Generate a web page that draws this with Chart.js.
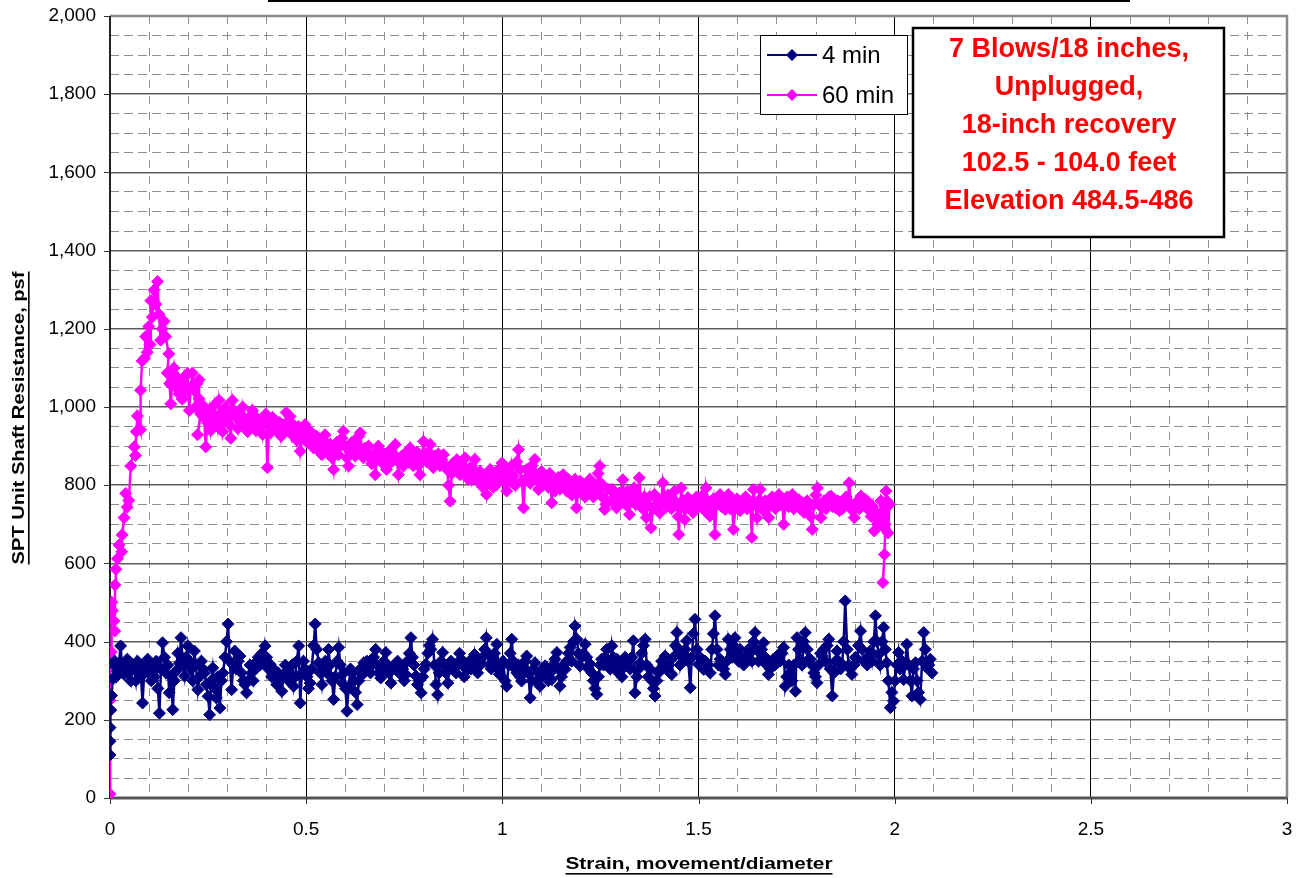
<!DOCTYPE html>
<html>
<head>
<meta charset="utf-8">
<script src="https://cdn.jsdelivr.net/npm/chart.js@4.4.1/dist/chart.umd.min.js"></script>
<style>
  html, body { margin: 0; padding: 0; background: #fff; }
  canvas { display: block; }
</style>
</head>
<body>
<canvas id="shaftChart" width="1300" height="878"></canvas>
<script>
// strain (movement/diameter) and unit shaft resistance (psf), 4 minute setup
const min4X = [
  0, 0, 0, 0.002, 0.004, 0.007, 0.010, 0.012, 0.016, 0.019,
  0.023, 0.027, 0.031, 0.036, 0.040, 0.044, 0.048, 0.053, 0.057, 0.062,
  0.066, 0.070, 0.075, 0.079, 0.083, 0.087, 0.092, 0.096, 0.100, 0.105,
  0.109, 0.113, 0.118, 0.122, 0.126, 0.130, 0.134, 0.139, 0.143, 0.147,
  0.151, 0.156, 0.160, 0.164, 0.168, 0.173, 0.177, 0.181, 0.186, 0.190,
  0.194, 0.198, 0.202, 0.206, 0.211, 0.215, 0.219, 0.224, 0.228, 0.233,
  0.237, 0.241, 0.245, 0.250, 0.254, 0.258, 0.262, 0.267, 0.271, 0.275,
  0.280, 0.284, 0.288, 0.293, 0.297, 0.301, 0.305, 0.310, 0.314, 0.318,
  0.322, 0.327, 0.331, 0.335, 0.340, 0.344, 0.348, 0.352, 0.357, 0.361,
  0.365, 0.370, 0.374, 0.378, 0.382, 0.387, 0.391, 0.395, 0.399, 0.404,
  0.408, 0.412, 0.417, 0.421, 0.425, 0.429, 0.434, 0.438, 0.442, 0.447,
  0.451, 0.455, 0.459, 0.464, 0.468, 0.472, 0.476, 0.481, 0.485, 0.489,
  0.493, 0.497, 0.502, 0.506, 0.510, 0.514, 0.519, 0.523, 0.527, 0.532,
  0.536, 0.540, 0.544, 0.549, 0.553, 0.557, 0.561, 0.566, 0.570, 0.574,
  0.579, 0.583, 0.587, 0.592, 0.596, 0.600, 0.604, 0.608, 0.613, 0.617,
  0.621, 0.626, 0.630, 0.634, 0.638, 0.643, 0.647, 0.651, 0.655, 0.660,
  0.664, 0.668, 0.672, 0.677, 0.681, 0.685, 0.690, 0.694, 0.698, 0.703,
  0.707, 0.711, 0.716, 0.720, 0.724, 0.728, 0.733, 0.737, 0.741, 0.746,
  0.750, 0.754, 0.758, 0.763, 0.767, 0.771, 0.775, 0.780, 0.784, 0.788,
  0.793, 0.797, 0.801, 0.805, 0.810, 0.814, 0.818, 0.822, 0.827, 0.831,
  0.835, 0.839, 0.844, 0.848, 0.852, 0.856, 0.861, 0.865, 0.869, 0.874,
  0.878, 0.882, 0.886, 0.891, 0.895, 0.899, 0.903, 0.908, 0.912, 0.916,
  0.920, 0.925, 0.929, 0.933, 0.937, 0.942, 0.946, 0.950, 0.955, 0.959,
  0.963, 0.967, 0.972, 0.976, 0.980, 0.984, 0.986, 0.990, 0.993, 0.998,
  1.002, 1.007, 1.011, 1.016, 1.020, 1.024, 1.028, 1.033, 1.037, 1.041,
  1.045, 1.049, 1.054, 1.058, 1.062, 1.066, 1.071, 1.075, 1.079, 1.083,
  1.088, 1.092, 1.096, 1.100, 1.105, 1.109, 1.113, 1.117, 1.122, 1.126,
  1.130, 1.134, 1.139, 1.143, 1.147, 1.151, 1.156, 1.160, 1.164, 1.169,
  1.173, 1.177, 1.181, 1.185, 1.190, 1.194, 1.198, 1.202, 1.207, 1.211,
  1.215, 1.220, 1.224, 1.228, 1.232, 1.236, 1.241, 1.245, 1.249, 1.253,
  1.258, 1.262, 1.266, 1.270, 1.275, 1.279, 1.283, 1.287, 1.292, 1.296,
  1.300, 1.305, 1.309, 1.313, 1.317, 1.322, 1.326, 1.330, 1.334, 1.338,
  1.343, 1.347, 1.351, 1.355, 1.360, 1.364, 1.368, 1.372, 1.377, 1.381,
  1.385, 1.389, 1.394, 1.398, 1.402, 1.406, 1.411, 1.415, 1.419, 1.424,
  1.428, 1.432, 1.436, 1.441, 1.445, 1.449, 1.453, 1.457, 1.462, 1.466,
  1.470, 1.474, 1.479, 1.483, 1.487, 1.491, 1.496, 1.500, 1.504, 1.509,
  1.513, 1.517, 1.521, 1.525, 1.530, 1.534, 1.538, 1.542, 1.547, 1.551,
  1.555, 1.559, 1.564, 1.568, 1.572, 1.576, 1.581, 1.585, 1.589, 1.593,
  1.598, 1.602, 1.606, 1.610, 1.615, 1.619, 1.623, 1.627, 1.632, 1.636,
  1.640, 1.644, 1.649, 1.653, 1.657, 1.661, 1.666, 1.670, 1.674, 1.678,
  1.683, 1.687, 1.691, 1.695, 1.700, 1.704, 1.708, 1.713, 1.717, 1.721,
  1.725, 1.730, 1.734, 1.738, 1.743, 1.747, 1.751, 1.755, 1.760, 1.764,
  1.768, 1.772, 1.777, 1.781, 1.785, 1.789, 1.794, 1.798, 1.802, 1.806,
  1.811, 1.815, 1.819, 1.823, 1.828, 1.832, 1.836, 1.841, 1.845, 1.849,
  1.853, 1.857, 1.862, 1.866, 1.870, 1.874, 1.879, 1.883, 1.887, 1.891,
  1.896, 1.900, 1.904, 1.908, 1.913, 1.917, 1.921, 1.926, 1.930, 1.934,
  1.938, 1.942, 1.947, 1.951, 1.955, 1.959, 1.963, 1.968, 1.972, 1.976,
  1.980, 1.984, 1.989, 1.993, 1.997, 2.001, 2.006, 2.010, 2.014, 2.019,
  2.023, 2.027, 2.031, 2.036, 2.040, 2.044, 2.048, 2.053, 2.057, 2.061,
  2.065, 2.070, 2.074, 2.078, 2.082, 2.087, 2.091, 2.095
];
const min4Y = [
  110, 145, 180, 225, 262, 305, 340, 350, 310, 325,
  345, 389, 330, 316, 340, 355, 320, 299, 340, 329,
  300, 350, 330, 310, 243, 320, 340, 355, 320, 300,
  333, 310, 350, 280, 217, 330, 397, 360, 320, 340,
  269, 310, 226, 300, 325, 370, 345, 410, 340, 312,
  360, 389, 350, 329, 300, 376, 340, 277, 310, 350,
  330, 320, 290, 260, 213, 300, 333, 280, 256, 310,
  230, 300, 320, 360, 400, 445, 350, 277, 340, 376,
  330, 350, 363, 320, 300, 290, 269, 300, 340, 320,
  300, 345, 333, 360, 340, 370, 350, 389, 360, 330,
  342, 310, 330, 307, 290, 320, 300, 273, 310, 340,
  325, 300, 320, 340, 286, 310, 350, 389, 243, 320,
  350, 330, 310, 280, 294, 330, 390, 445, 380, 346,
  320, 290, 330, 350, 320, 380, 340, 300, 252, 310,
  350, 385, 340, 294, 320, 280, 222, 280, 330, 320,
  300, 270, 239, 300, 330, 315, 346, 330, 350, 340,
  320, 340, 360, 380, 340, 320, 307, 330, 350, 372,
  340, 320, 294, 330, 340, 330, 350, 320, 340, 330,
  300, 316, 350, 370, 410, 360, 340, 312, 290, 300,
  269, 310, 330, 342, 370, 390, 380, 406, 340, 290,
  264, 320, 350, 372, 340, 320, 294, 330, 350, 330,
  342, 320, 340, 370, 355, 340, 310, 330, 329, 350,
  330, 340, 367, 330, 320, 350, 342, 360, 380, 410,
  370, 340, 330, 350, 370, 340, 393, 330, 316, 340,
  350, 300, 286, 340, 370, 406, 350, 330, 320, 340,
  310, 299, 330, 350, 363, 320, 256, 300, 330, 346,
  300, 320, 286, 310, 330, 338, 320, 300, 320, 303,
  340, 355, 372, 330, 286, 310, 340, 329, 350, 370,
  385, 350, 400, 440, 406, 370, 338, 360, 370, 393,
  360, 330, 342, 320, 300, 280, 265, 310, 340, 355,
  340, 360, 380, 350, 330, 389, 360, 340, 355, 320,
  340, 310, 333, 360, 340, 350, 330, 360, 402, 269,
  310, 330, 346, 370, 390, 406, 340, 310, 329, 300,
  280, 261, 300, 320, 329, 350, 340, 363, 330, 340,
  320, 316, 360, 390, 423, 380, 340, 367, 350, 380,
  402, 350, 282, 360, 420, 457, 380, 342, 360, 340,
  329, 350, 330, 340, 320, 380, 420, 466, 380, 340,
  355, 340, 330, 316, 350, 406, 380, 360, 390, 410,
  370, 350, 380, 360, 340, 359, 350, 380, 372, 350,
  400, 423, 380, 350, 370, 380, 397, 360, 340, 316,
  330, 350, 355, 340, 360, 367, 350, 370, 385, 286,
  310, 340, 320, 300, 340, 273, 410, 380, 355, 340,
  400, 423, 380, 355, 355, 340, 320, 310, 295, 340,
  370, 363, 380, 350, 390, 406, 330, 261, 320, 350,
  376, 350, 330, 342, 400, 504, 380, 340, 330, 316,
  340, 360, 355, 390, 427, 380, 350, 355, 340, 360,
  376, 350, 400, 466, 400, 367, 340, 400, 436, 380,
  346, 300, 231, 270, 248, 300, 340, 372, 330, 350,
  303, 340, 393, 340, 300, 261, 330, 346, 300, 270,
  252, 350, 423, 380, 333, 340, 355, 320
];

// same quantities, 60 minute setup
const min60X = [
  0, 0, 0.001, 0.003, 0.004, 0.006, 0.010, 0.012, 0.013, 0.015,
  0.019, 0.023, 0.030, 0.031, 0.036, 0.040, 0.044, 0.048, 0.053, 0.062,
  0.065, 0.067, 0.070, 0.078, 0.078, 0.082, 0.088, 0.091, 0.095, 0.099,
  0.102, 0.104, 0.108, 0.112, 0.117, 0.121, 0.125, 0.129, 0.133, 0.138,
  0.142, 0.150, 0.146, 0.152, 0.155, 0.159, 0.163, 0.168, 0.172, 0.176,
  0.180, 0.184, 0.189, 0.193, 0.197, 0.202, 0.206, 0.210, 0.214, 0.218,
  0.222, 0.227, 0.227, 0.231, 0.223, 0.236, 0.240, 0.244, 0.248, 0.253,
  0.257, 0.261, 0.266, 0.270, 0.274, 0.278, 0.283, 0.287, 0.291, 0.295,
  0.300, 0.304, 0.308, 0.312, 0.317, 0.321, 0.326, 0.330, 0.334, 0.338,
  0.343, 0.347, 0.351, 0.356, 0.360, 0.363, 0.368, 0.372, 0.376, 0.380,
  0.385, 0.389, 0.393, 0.397, 0.401, 0.406, 0.410, 0.414, 0.419, 0.423,
  0.427, 0.432, 0.436, 0.440, 0.445, 0.449, 0.453, 0.459, 0.463, 0.467,
  0.472, 0.476, 0.480, 0.485, 0.490, 0.493, 0.497, 0.502, 0.506, 0.510,
  0.515, 0.519, 0.523, 0.527, 0.532, 0.536, 0.540, 0.544, 0.548, 0.553,
  0.557, 0.561, 0.566, 0.570, 0.574, 0.578, 0.582, 0.587, 0.591, 0.595,
  0.599, 0.604, 0.608, 0.612, 0.617, 0.621, 0.625, 0.629, 0.634, 0.638,
  0.642, 0.646, 0.650, 0.655, 0.659, 0.663, 0.667, 0.672, 0.676, 0.680,
  0.684, 0.688, 0.693, 0.697, 0.701, 0.705, 0.710, 0.714, 0.718, 0.722,
  0.727, 0.731, 0.735, 0.739, 0.744, 0.748, 0.752, 0.756, 0.761, 0.765,
  0.769, 0.773, 0.778, 0.782, 0.786, 0.790, 0.795, 0.799, 0.803, 0.807,
  0.812, 0.816, 0.820, 0.824, 0.829, 0.833, 0.837, 0.841, 0.846, 0.850,
  0.855, 0.859, 0.863, 0.867, 0.871, 0.875, 0.880, 0.884, 0.888, 0.892,
  0.896, 0.901, 0.905, 0.909, 0.913, 0.918, 0.922, 0.926, 0.930, 0.935,
  0.939, 0.943, 0.948, 0.952, 0.956, 0.960, 0.965, 0.969, 0.973, 0.977,
  0.982, 0.986, 0.990, 0.995, 0.999, 1.003, 1.007, 1.011, 1.016, 1.020,
  1.024, 1.028, 1.033, 1.037, 1.041, 1.045, 1.050, 1.054, 1.058, 1.062,
  1.066, 1.071, 1.075, 1.079, 1.083, 1.087, 1.092, 1.096, 1.100, 1.104,
  1.109, 1.113, 1.117, 1.121, 1.126, 1.130, 1.134, 1.138, 1.143, 1.147,
  1.151, 1.155, 1.160, 1.164, 1.168, 1.172, 1.177, 1.181, 1.185, 1.189,
  1.194, 1.198, 1.202, 1.206, 1.211, 1.215, 1.219, 1.223, 1.228, 1.232,
  1.236, 1.240, 1.244, 1.248, 1.251, 1.255, 1.261, 1.264, 1.268, 1.274,
  1.278, 1.281, 1.286, 1.291, 1.294, 1.298, 1.302, 1.307, 1.311, 1.315,
  1.319, 1.324, 1.328, 1.332, 1.336, 1.340, 1.345, 1.349, 1.353, 1.358,
  1.362, 1.367, 1.371, 1.375, 1.379, 1.384, 1.388, 1.392, 1.396, 1.401,
  1.405, 1.409, 1.414, 1.418, 1.422, 1.427, 1.431, 1.435, 1.439, 1.444,
  1.448, 1.450, 1.453, 1.456, 1.460, 1.465, 1.469, 1.473, 1.478, 1.482,
  1.486, 1.491, 1.495, 1.500, 1.504, 1.508, 1.512, 1.516, 1.519, 1.524,
  1.529, 1.534, 1.538, 1.542, 1.546, 1.551, 1.555, 1.559, 1.564, 1.568,
  1.572, 1.576, 1.581, 1.585, 1.589, 1.594, 1.598, 1.602, 1.606, 1.611,
  1.615, 1.620, 1.624, 1.628, 1.632, 1.636, 1.640, 1.645, 1.649, 1.653,
  1.657, 1.662, 1.666, 1.670, 1.675, 1.679, 1.683, 1.688, 1.692, 1.696,
  1.700, 1.705, 1.709, 1.713, 1.717, 1.722, 1.726, 1.730, 1.735, 1.739,
  1.743, 1.747, 1.752, 1.756, 1.760, 1.765, 1.769, 1.773, 1.777, 1.782,
  1.786, 1.790, 1.794, 1.799, 1.803, 1.807, 1.812, 1.816, 1.820, 1.825,
  1.829, 1.833, 1.838, 1.842, 1.846, 1.850, 1.855, 1.859, 1.863, 1.867,
  1.872, 1.876, 1.880, 1.884, 1.889, 1.893, 1.897, 1.901, 1.906, 1.910,
  1.914, 1.918, 1.923, 1.927, 1.931, 1.935, 1.940, 1.944, 1.948, 1.952,
  1.957, 1.961, 1.965, 1.970, 1.974, 1.978, 1.983, 1.987, 1.980, 1.976,
  1.974, 1.970
];
const min60Y = [
  10, 250, 300, 374, 501, 479, 453, 427, 545, 585,
  612, 647, 630, 673, 717, 779, 744, 761, 849, 898,
  876, 937, 977, 942, 1043, 1118, 1125, 1180, 1140, 1206,
  1160, 1272, 1230, 1299, 1263, 1321, 1237, 1171, 1200, 1219,
  1180, 1136, 1087, 1060, 1008, 1070, 1100, 1050, 1075, 1034,
  1061, 1020, 1074, 1040, 1085, 991, 1050, 1087, 1043, 1000,
  1060, 1070, 1021, 982, 929, 1005, 973, 898, 960, 991,
  940, 964, 1005, 975, 950, 1017, 985, 937, 965, 1000,
  975, 955, 920, 1017, 990, 973, 945, 985, 960, 1000,
  970, 950, 937, 975, 955, 991, 965, 940, 970, 946,
  960, 930, 965, 982, 845, 955, 935, 973, 950, 965,
  937, 960, 925, 955, 940, 986, 950, 976, 930, 955,
  942, 915, 950, 887, 925, 940, 955, 910, 925, 938,
  915, 895, 900, 925, 905, 885, 878, 915, 929, 900,
  880, 905, 870, 840, 895, 910, 878, 900, 920, 938,
  900, 870, 849, 885, 910, 904, 875, 900, 925, 934,
  890, 870, 895, 880, 900, 870, 855, 880, 827, 865,
  900, 887, 860, 880, 850, 840, 870, 890, 860, 880,
  904, 865, 827, 860, 875, 849, 870, 885, 860, 895,
  870, 850, 870, 885, 850, 827, 870, 912, 875, 860,
  885, 904, 870, 845, 875, 857, 880, 850, 865, 878,
  850, 840, 800, 759, 830, 857, 845, 865, 835, 827,
  850, 865, 870, 835, 815, 845, 814, 840, 866, 830,
  810, 835, 797, 825, 810, 776, 815, 840, 819, 795,
  820, 802, 840, 820, 857, 810, 835, 785, 830, 810,
  850, 823, 800, 860, 891, 840, 810, 742, 815, 840,
  823, 805, 850, 820, 866, 815, 789, 810, 835, 800,
  820, 815, 795, 830, 755, 805, 785, 802, 820, 790,
  810, 827, 805, 785, 815, 797, 775, 800, 815, 742,
  790, 810, 780, 802, 770, 795, 780, 815, 790, 770,
  800, 785, 830, 849, 805, 770, 738, 751, 790, 789,
  760, 789, 770, 742, 759, 780, 760, 814, 770, 750,
  785, 725, 760, 775, 793, 750, 770, 819, 765, 740,
  770, 717, 750, 770, 691, 740, 776, 750, 765, 729,
  760, 806, 770, 745, 775, 759, 740, 765, 785, 750,
  720, 674, 740, 793, 760, 712, 745, 768, 740, 760,
  730, 751, 770, 745, 760, 772, 750, 735, 793, 760,
  721, 745, 765, 674, 750, 770, 776, 745, 760, 738,
  755, 776, 740, 760, 687, 740, 765, 759, 735, 760,
  746, 770, 740, 760, 750, 666, 789, 750, 717, 760,
  789, 750, 735, 760, 745, 717, 750, 770, 763, 740,
  755, 776, 750, 765, 700, 755, 770, 745, 760, 776,
  740, 760, 750, 763, 740, 755, 730, 738, 760, 745,
  720, 687, 750, 775, 793, 750, 717, 745, 760, 740,
  755, 770, 772, 745, 760, 742, 760, 735, 755, 740,
  746, 770, 760, 806, 750, 735, 717, 745, 760, 740,
  772, 750, 765, 745, 759, 735, 720, 745, 683, 730,
  700, 712, 760, 734, 690, 785, 678, 751, 760, 700,
  623, 551
];

const xTickStep = 0.5;
const xMinorStep = 0.1;
const yTickStep = 200;
const yMinorStep = 50;
const seriesNames = ['4 min', '60 min'];
const seriesColors = ['#000080', '#FF00FF'];
const noteLines = ['7 Blows/18 inches,', 'Unplugged,', '18-inch recovery', '102.5 - 104.0 feet', 'Elevation 484.5-486'];
const xTitle = 'Strain, movement/diameter';
const yTitle = 'SPT Unit Shaft Resistance, psf';

const toPoints = (xs, ys) => xs.map((x, i) => ({ x: x, y: ys[i] }));
const isMultiple = (v, step) => Math.abs(v / step - Math.round(v / step)) < 1e-6;
const TICK_MARK = 6;

function diamond(ctx, x, y, r, color) {
    ctx.beginPath();
    ctx.moveTo(x, y - r);
    ctx.lineTo(x + r, y);
    ctx.lineTo(x, y + r);
    ctx.lineTo(x - r, y);
    ctx.closePath();
    ctx.fillStyle = color;
    ctx.fill();
}

// bold underlined axis title, stretched to a fixed length
function drawTitle(ctx, text, cx, cy, angle, length) {
    ctx.save();
    ctx.translate(cx, cy);
    ctx.rotate(angle);
    ctx.font = 'bold 17px "Liberation Sans", Arial, sans-serif';
    const w = ctx.measureText(text).width;
    ctx.scale(length / w, 1);
    ctx.fillStyle = '#000';
    ctx.textAlign = 'center';
    ctx.textBaseline = 'alphabetic';
    ctx.fillText(text, 0, 0);
    ctx.fillRect(-w / 2, 4, w, 1.6);
    ctx.restore();
}

const decorations = {
    id: 'decorations',
    beforeDatasetsDraw(chart) {
        const { ctx, chartArea: a, scales } = chart;
        ctx.save();
        // frame around the plot
        ctx.strokeStyle = '#888';
        ctx.lineWidth = 2.5;
        ctx.beginPath();
        ctx.moveTo(a.left, a.top);
        ctx.lineTo(a.right, a.top);
        ctx.lineTo(a.right, a.bottom);
        ctx.stroke();
        ctx.strokeStyle = '#555';
        ctx.lineWidth = 3;
        ctx.beginPath();
        ctx.moveTo(a.left, a.bottom);
        ctx.lineTo(a.right, a.bottom);
        ctx.stroke();
        ctx.strokeStyle = '#222';
        ctx.lineWidth = 2;
        ctx.beginPath();
        ctx.moveTo(a.left, a.top);
        ctx.lineTo(a.left, a.bottom);
        ctx.stroke();

        // short outward tick marks at the labelled values
        ctx.strokeStyle = '#333';
        ctx.lineWidth = 1;
        ctx.beginPath();
        scales.y.ticks.forEach(t => {
            const y = Math.round(scales.y.getPixelForValue(t.value)) + 0.5;
            ctx.moveTo(a.left - TICK_MARK, y);
            ctx.lineTo(a.left, y);
        });
        scales.x.ticks.forEach(t => {
            const x = Math.round(scales.x.getPixelForValue(t.value)) + 0.5;
            ctx.moveTo(x, a.bottom);
            ctx.lineTo(x, a.bottom + TICK_MARK);
        });
        ctx.stroke();
        ctx.restore();
    },
    afterDraw(chart) {
        const ctx = chart.ctx;
        ctx.save();

        // rule along the top edge
        ctx.fillStyle = '#000';
        ctx.fillRect(268, 0, 862, 2);

        // legend
        ctx.fillStyle = '#fff';
        ctx.fillRect(760, 35, 147, 79);
        ctx.strokeStyle = '#000';
        ctx.lineWidth = 1;
        ctx.strokeRect(760.5, 35.5, 147, 79);
        ctx.font = '24px "Liberation Sans", Arial, sans-serif';
        ctx.textBaseline = 'middle';
        ctx.textAlign = 'left';
        seriesNames.forEach((name, i) => {
            const y = 55 + i * 40;
            ctx.strokeStyle = seriesColors[i];
            ctx.lineWidth = 2;
            ctx.beginPath();
            ctx.moveTo(767, y);
            ctx.lineTo(817, y);
            ctx.stroke();
            diamond(ctx, 792, y, 6, seriesColors[i]);
            ctx.fillStyle = '#000';
            ctx.fillText(name, 822, y + 1);
        });

        // test description box
        ctx.fillStyle = '#fff';
        ctx.fillRect(912, 27, 313, 211);
        ctx.strokeStyle = '#000';
        ctx.lineWidth = 2.5;
        ctx.strokeRect(913, 28, 311, 209);
        ctx.fillStyle = '#FF0000';
        ctx.font = 'bold 27px "Liberation Sans", Arial, sans-serif';
        ctx.textAlign = 'center';
        noteLines.forEach((line, i) => ctx.fillText(line, 1069, 50 + i * 37.8));

        ctx.restore();

        drawTitle(ctx, xTitle, 699, 869, 0, 267);
        drawTitle(ctx, yTitle, 24, 418, -Math.PI / 2, 293);
    }
};

const tickFont = { family: '"Liberation Sans", Arial, sans-serif', size: 19 };

function seriesDataset(i, xs, ys) {
    return {
        label: seriesNames[i],
        data: toPoints(xs, ys),
        showLine: true,
        borderColor: seriesColors[i],
        backgroundColor: seriesColors[i],
        borderWidth: 2.5,
        pointStyle: 'rectRot',
        pointRadius: 6,
        pointBorderWidth: 1,
        xAxisID: 'x',
        yAxisID: 'y'
    };
}

new Chart(document.getElementById('shaftChart'), {
    type: 'scatter',
    data: {
        datasets: [
            seriesDataset(0, min4X, min4Y),
            seriesDataset(1, min60X, min60Y)
        ]
    },
    options: {
        responsive: false,
        animation: false,
        layout: { autoPadding: false, padding: { top: 16, right: 13, left: 0, bottom: 0 } },
        plugins: {
            legend: { display: false },
            tooltip: { enabled: false }
        },
        scales: {
            xMinor: {
                type: 'linear',
                position: 'bottom',
                min: 0,
                max: 3,
                ticks: { stepSize: xMinorStep, display: false },
                grid: {
                    color: c => isMultiple(c.tick.value, xTickStep) ? 'rgba(0,0,0,0)' : '#8f8f8f',
                    lineWidth: 1,
                    drawTicks: false
                },
                border: { display: false, dash: [8, 8] },
                afterFit: s => { s.height = 0; }
            },
            yMinor: {
                type: 'linear',
                position: 'left',
                min: 0,
                max: 2000,
                ticks: { stepSize: yMinorStep, display: false },
                grid: {
                    color: c => isMultiple(c.tick.value, yTickStep) ? 'rgba(0,0,0,0)' : '#8f8f8f',
                    lineWidth: 1,
                    drawTicks: false
                },
                border: { display: false, dash: [9, 5] },
                afterFit: s => { s.width = 0; }
            },
            x: {
                type: 'linear',
                position: 'bottom',
                min: 0,
                max: 3,
                ticks: {
                    stepSize: xTickStep,
                    color: '#000',
                    font: tickFont,
                    padding: 4,
                    maxRotation: 0,
                    callback: v => String(v)
                },
                grid: { color: '#000', lineWidth: 1, tickLength: 16, tickColor: 'rgba(0,0,0,0)' },
                border: { display: false },
                afterFit: s => { s.height = 80; }
            },
            y: {
                type: 'linear',
                position: 'left',
                min: 0,
                max: 2000,
                ticks: {
                    stepSize: yTickStep,
                    color: '#000',
                    font: tickFont,
                    padding: 2,
                    callback: v => v.toLocaleString('en-US')
                },
                grid: { color: '#5a5a5a', lineWidth: 1.5, tickLength: 12, tickColor: 'rgba(0,0,0,0)' },
                border: { display: false },
                afterFit: s => { s.width = 110; }
            }
        }
    },
    plugins: [decorations]
});
</script>
</body>
</html>
